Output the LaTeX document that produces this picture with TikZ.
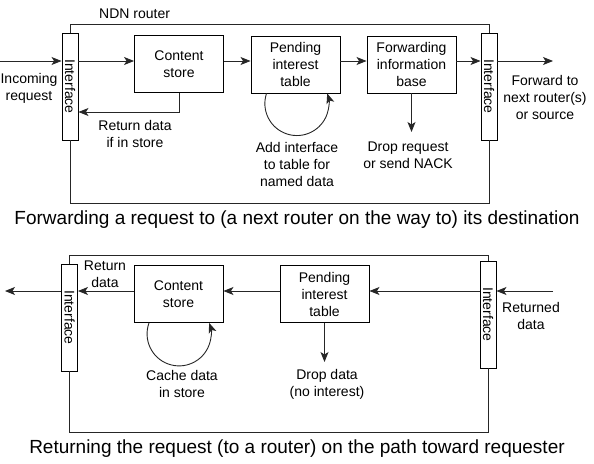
\documentclass[tikz,border=0pt]{standalone}
\usepackage{fontspec}
\setmainfont{Liberation Sans}
\usetikzlibrary{arrows.meta}
\begin{document}
\begin{tikzpicture}[x=1pt,y=1pt,
  lbl/.style={font=\fontsize{14}{17}\selectfont, align=center, inner sep=0pt},
  captext/.style={font=\fontsize{19}{22}\selectfont, inner sep=0pt},
  box/.style={draw, line width=0.9pt, align=center, inner sep=0pt, minimum width=89pt, minimum height=57pt, font=\fontsize{14}{17}\selectfont},
  iface/.style={draw, line width=0.9pt, fill=white, rotate=-90, inner sep=0pt, minimum width=107pt, minimum height=16pt, font=\fontsize{14}{17}\selectfont},
  frame/.style={line width=0.9pt, draw=black!85},
  arr/.style={line width=0.9pt, draw=black!85, -{Stealth[length=10pt,width=8pt,inset=2.5pt]}},
  ]
\useasboundingbox (0,0) rectangle (594,-463);

% ---------- top panel ----------
\node[iface] (lif1) at (70,-86.5) {Interface};
\node[iface] (rif1) at (489,-86.5) {Interface};
\node[box] (cs1) at (179,-64) {Content\\store};
\node[box] (pit1) at (295.5,-64.5) {Pending\\interest\\table};
\node[box] (fib1) at (411.5,-64.5) {Forwarding\\information\\base};

\coordinate (t1) at (0,-24);
\coordinate (b1) at (0,-203);
\draw[frame] (lif1.west) |- (t1 -| rif1.west) -- (rif1.west);
\draw[frame] (lif1.east) |- (b1 -| rif1.east) -- (rif1.east);

\node[lbl, anchor=west] (ndn) at (99,-14) {NDN router};

\coordinate (inc) at (0,-61);
\coordinate (out1) at (553,-61);
\coordinate (ret1) at (78,-112);
\coordinate (drop1) at (411.5,-132);
\draw[arr] (inc) -- (inc -| lif1.south);
\draw[arr] (lif1.north |- inc) -- (cs1.west |- inc);
\draw[arr] (cs1.east |- inc) -- (pit1.west |- inc);
\draw[arr] (pit1.east |- inc) -- (fib1.west |- inc);
\draw[arr] (fib1.east |- inc) -- (rif1.south |- inc);
\draw[arr] (rif1.north |- inc) -- (out1);
\draw[arr] (cs1.south) |- (ret1 -| lif1.north);
\draw[arr] (fib1.south) -- (drop1);
\draw[arr] ([xshift=-29pt]pit1.south) arc[start angle=161.6, end angle=378.4, radius=32pt];

\node[lbl] (incl) at (29,-88.5) {Incoming\\request};
\node[lbl] (retl) at (135,-133.5) {Return data\\if in store};
\node[lbl] (addl) at (297,-164) {Add interface\\to table for\\named data};
\node[lbl] (dropl) at (408,-155) {Drop request\\or send NACK};
\node[lbl] (fwdl) at (545,-97) {Forward to\\next router(s)\\or source};
\node[captext] (cap1) at (297,-220) {Forwarding a request to (a next router on the way to) its destination};

% ---------- bottom panel ----------
\node[iface] (lif2) at (69.5,-317.5) {Interface};
\node[iface] (rif2) at (488,-314.5) {Interface};
\node[box] (cs2) at (178.5,-294) {Content\\store};
\node[box] (pit2) at (324.5,-294) {Pending\\interest\\table};

\coordinate (t2) at (0,-255);
\coordinate (b2) at (0,-432);
\draw[frame] (lif2.west) |- (t2 -| rif2.west) -- (rif2.west);
\draw[frame] (lif2.east) |- (b2 -| rif2.east) -- (rif2.east);

\coordinate (rin2) at (553,-291);
\coordinate (lout2) at (5,-291);
\coordinate (drop2) at (324.5,-362);
\draw[arr] (rin2) -- (rin2 -| rif2.north);
\draw[arr] (rif2.south |- rin2) -- (pit2.east |- rin2);
\draw[arr] (pit2.west |- rin2) -- (cs2.east |- rin2);
\draw[arr] (cs2.west |- rin2) -- (lif2.north |- rin2);
\draw[arr] (lif2.south |- rin2) -- (lout2);
\draw[arr] (pit2.south) -- (drop2);
\draw[arr] ([xshift=-29.5pt]cs2.south) arc[start angle=160, end angle=380, radius=32pt];

\node[lbl] (retdl) at (105,-274) {Return\\data};
\node[lbl] (cachel) at (182,-383.5) {Cache data\\in store};
\node[lbl] (dropdl) at (327,-384.5) {Drop data\\(no interest)};
\node[lbl] (retnl) at (531,-315.5) {Returned\\data};
\node[captext] (cap2) at (297,-449) {Returning the request (to a router) on the path toward requester};
\end{tikzpicture}
\end{document}
